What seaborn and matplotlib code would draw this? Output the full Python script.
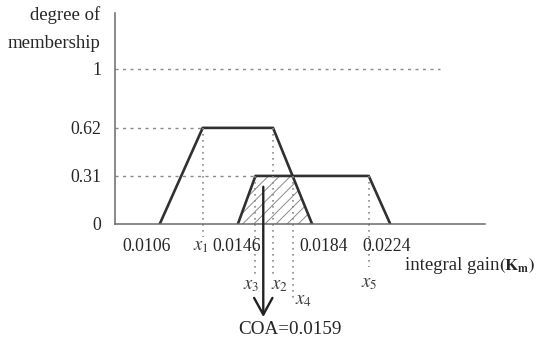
import numpy as np
import pandas as pd
import matplotlib
matplotlib.use("Agg")
import matplotlib.pyplot as plt
import seaborn as sns

# ---- data ----
a_x = [0.0106, 0.0128, 0.0164, 0.0184]   # left trapezoid corners
a_y = [0.0, 0.62, 0.62, 0.0]
b_x = [0.0146, 0.0155, 0.0213, 0.0224]   # right trapezoid corners
b_y = [0.0, 0.31, 0.31, 0.0]
coa = 0.0159
y_levels = [0, 0.31, 0.62, 1]
y_labels = ["0", "0.31", "0.62", "1"]
x_numbers = [0.0106, 0.0146, 0.0184, 0.0224]
x_number_labels = ["0.0106", "0.0146", "0.0184", "0.0224"]

sns.set_theme(style="white")
plt.rcParams["font.family"] = ["Liberation Serif", "DejaVu Serif"]
plt.rcParams["mathtext.fontset"] = "stix"
plt.rcParams["hatch.linewidth"] = 0.7

TXT = "#262626"
LINE = "#303030"
GRID = "#8a8a8a"

fig = plt.figure(figsize=(5.37, 3.39), dpi=100)
ax = fig.add_axes([115 / 537, 1 - 224 / 339, 370 / 537, 211 / 339])
ax.set_xlim(0.00831, 0.02725)
ax.set_ylim(0, 1.361)

dfa = pd.DataFrame({"x": a_x, "y": a_y})
dfb = pd.DataFrame({"x": b_x, "y": b_y})
sns.lineplot(data=dfa, x="x", y="y", ax=ax, color=LINE, lw=1.9, sort=False, estimator=None)
sns.lineplot(data=dfb, x="x", y="y", ax=ax, color=LINE, lw=1.9, sort=False, estimator=None)

# hatched overlap (min of the two membership functions)
xs = np.linspace(b_x[0], a_x[3], 300)
low = np.minimum(np.interp(xs, a_x, a_y), np.interp(xs, b_x, b_y))
ax.fill_between(xs, 0, low, facecolor="none", edgecolor="#8a8a8a", hatch="///", linewidth=0)

x1, x2, x3, x5 = a_x[1], a_x[2], b_x[1], b_x[2]
x4 = float(np.interp(0.31, [0.0, 0.62], [a_x[3], a_x[2]]))

# dashed horizontal guides
dash = dict(color=GRID, lw=1.0, ls=(0, (2.2, 3.2)))
ax.plot([ax.get_xlim()[0], 0.02495], [1, 1], **dash)
ax.plot([ax.get_xlim()[0], x1], [0.62, 0.62], **dash)
ax.plot([ax.get_xlim()[0], x3], [0.31, 0.31], **dash)

# dotted vertical guides
dot = dict(color=GRID, lw=1.2, ls=(0, (1, 2.6)), clip_on=False)
ax.plot([x1, x1], [0.62, -0.085], **dot)
ax.plot([x2, x2], [0.62, -0.33], **dot)
ax.plot([x3, x3], [0.31, -0.33], **dot)
ax.plot([x4, x4], [0.31, -0.50], **dot)
ax.plot([x5, x5], [0.31, -0.28], **dot)

# spines / ticks
sns.despine(ax=ax)
for s in ("left", "bottom"):
    ax.spines[s].set_color("#6a6a6a")
    ax.spines[s].set_linewidth(1.1)
ax.set_yticks(y_levels)
ax.set_yticklabels(y_labels, fontsize=12.8, color=TXT)
ax.tick_params(axis="y", length=0, pad=10)
ax.set_xticks([])
ax.set_xlabel("")
ax.set_ylabel("")

# x labels below axis
fs = 12.8
num_dx = [-9.4, -0.5, 8.6, -2.9]
for v, lab, dx in zip(x_numbers, x_number_labels, num_dx):
    ax.annotate(lab, xy=(v, 0), xytext=(dx, -16.5), textcoords="offset points",
                ha="center", va="center", fontsize=fs, color=TXT, annotation_clip=False)

sym = [(r"$x_1$", x1, -1, -16.5), (r"$x_3$", x3, -3, -44),
       (r"$x_2$", x2, 4.5, -44), (r"$x_4$", x4, 8, -55), (r"$x_5$", x5, 0, -42.5)]
for lab, v, dx, dy in sym:
    ax.annotate(lab, xy=(v, 0), xytext=(dx, dy), textcoords="offset points",
                ha="center", va="center", fontsize=13.5, color="#3a3a3a", annotation_clip=False)

# COA arrow
ax.annotate("", xy=(coa, -0.60), xytext=(coa, 0.24), xycoords="data",
            arrowprops=dict(arrowstyle="->,head_length=0.6,head_width=0.33",
                            lw=1.7, color="#222222", mutation_scale=20, shrinkA=0, shrinkB=0),
            annotation_clip=False)
ax.annotate(f"COA={coa}", xy=(coa, -0.60), xytext=(19.5, -3), textcoords="offset points",
            ha="center", va="top", fontsize=13.8, color=TXT, annotation_clip=False)

# axis titles
fig.text(100 / 537, 1 - 15 / 339, "degree of", ha="right", va="center", fontsize=13.5, color=TXT)
fig.text(100 / 537, 1 - 44 / 339, "membership", ha="right", va="center", fontsize=13.5, color=TXT)
fig.text(405 / 537, 1 - 266 / 339, "integral gain", ha="left", va="center",
         fontsize=13.5, color=TXT)
fig.text(499 / 537, 1 - 266 / 339, r"$\mathbf{(K_{m})}$", ha="left", va="center",
         fontsize=12, color=TXT)

fig.savefig("out.png", dpi=100, facecolor="white")
